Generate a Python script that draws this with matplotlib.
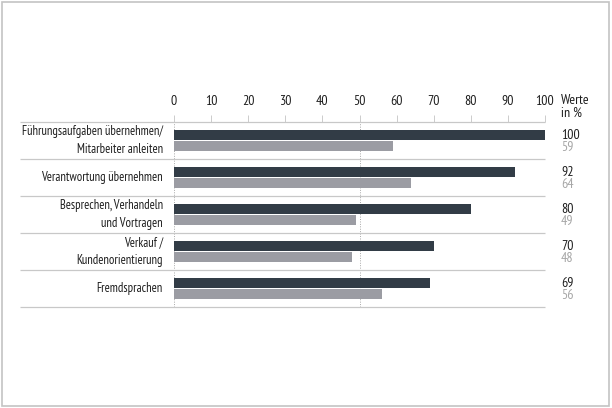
import matplotlib as mpl
import matplotlib.pyplot as plt
from matplotlib.patches import Rectangle
import numpy as np

mpl.rcParams.update({
    "font.family": ["PT Sans Narrow", "Roboto Condensed", "DejaVu Sans"],
    "font.size": 9.5,
})

categories = [
    "Führungsaufgaben übernehmen/\nMitarbeiter anleiten",
    "Verantwortung übernehmen",
    "Besprechen, Verhandeln\nund Vortragen",
    "Verkauf /\nKundenorientierung",
    "Fremdsprachen",
]
values_dark = [100, 92, 80, 70, 69]
values_gray = [59, 64, 49, 48, 56]
ticks = [0, 10, 20, 30, 40, 50, 60, 70, 80, 90, 100]

dark = "#323c46"
gray = "#9b9ca3"
line_gray = "#c8c8c8"
text_col = "#1e1e1e"

fig = plt.figure(figsize=(6.12, 4.08), dpi=100)
fig.patches.append(Rectangle((0.003, 0.004), 0.992, 0.992, transform=fig.transFigure,
                             fill=False, edgecolor="#c4c4c4", linewidth=1.2))

ax = fig.add_axes([174 / 612, 1 - 307 / 408, 371 / 612, 185 / 408])
y = np.arange(len(categories))
h = 0.27
ax.barh(y - 0.14, values_dark, height=h, color=dark, zorder=3)
ax.barh(y + 0.14, values_gray, height=h, color=gray, zorder=3)

ax.set_xlim(0, 100)
ax.set_ylim(len(categories) - 0.5, -0.5)
for s in ax.spines.values():
    s.set_visible(False)
ax.set_yticks([])
ax.xaxis.tick_top()
ax.set_xticks(ticks)
ax.set_xticklabels([str(t) for t in ticks], fontsize=10, color=text_col)
ax.tick_params(axis="x", length=5, width=0.6, color="#c4c4c4", pad=5, direction="out")

# separators (extend left under the labels)
seps = np.arange(len(categories) + 1) - 0.5
ax.hlines(seps, -41.5, 100, color=line_gray, linewidth=0.9, clip_on=False, zorder=2)
for xv in (0, 50):
    ax.axvline(xv, color="#a8a8a8", linewidth=0.7, linestyle=(0, (1, 1.5)), zorder=1)

for i, (cat, vd, vg) in enumerate(zip(categories, values_dark, values_gray)):
    ax.text(-3, i, cat, ha="right", va="center", fontsize=9, color=text_col,
            linespacing=1.55)
    ax.text(104.3, i - 0.14, str(vd), ha="left", va="center", fontsize=10, color=text_col)
    ax.text(104.3, i + 0.2, str(vg), ha="left", va="center", fontsize=10, color="#a6a6a6")

ax.text(104.3, -0.55, "Werte\nin %", ha="left", va="bottom", fontsize=10,
        color=text_col, linespacing=1.0)

fig.savefig("out.png", dpi=100)
